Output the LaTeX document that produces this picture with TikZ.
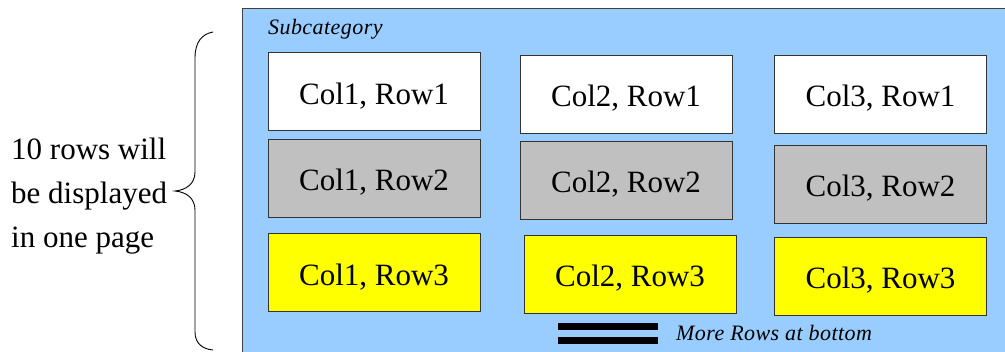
\documentclass[tikz,border=0pt]{standalone}
\usepackage{fontspec}
\setmainfont{Liberation Serif}
\newfontfamily\timesfont{Liberation Serif}
\definecolor{panelblue}{HTML}{99CCFF}
\definecolor{cellgrey}{HTML}{C0C0C0}
\definecolor{cellyellow}{HTML}{FFFF00}
\begin{document}
\begin{tikzpicture}[x=1pt,y=-1pt,
  cell/.style={draw=black!80, line width=0.9pt, minimum width=212pt, minimum height=78pt,
    inner sep=0pt, text height=26pt, text depth=0pt, font=\timesfont\fontsize{31}{31}\selectfont},
  white cell/.style={cell, fill=white},
  grey cell/.style={cell, fill=cellgrey},
  yellow cell/.style={cell, fill=cellyellow},
  side text/.style={anchor=base west, inner sep=0pt, font=\timesfont\fontsize{31}{31}\selectfont},
  note text/.style={anchor=base west, inner sep=0pt,
    font=\timesfont\fontsize{22}{22}\selectfont\itshape\addfontfeature{LetterSpace=2}}]
\useasboundingbox (0,0) rectangle (1005,352);

% panel
\fill[panelblue] (242,9) rectangle (1005,352);
\draw[black!75, line width=1pt] (242,352) -- (242,9) -- (1005,9);
\node[note text] (subcat) at (268,35) {Subcategory};

% grid of cells
\node[white cell]  (c11) at (374,91.5) {Col1, Row1};
\node[grey cell]   (c12) at (374,178)  {Col1, Row2};
\node[yellow cell] (c13) at (374,272.5){Col1, Row3};
\node[white cell]  (c21) at (626,94)   {Col2, Row1};
\node[grey cell]   (c22) at (626,180)  {Col2, Row2};
\node[yellow cell] (c23) at (630,274)  {Col2, Row3};
\node[white cell]  (c31) at (880.5,94) {Col3, Row1};
\node[grey cell]   (c32) at (880.5,184){Col3, Row2};
\node[yellow cell] (c33) at (880.5,276){Col3, Row3};

% more-rows marker
\fill[black] (558,323) rectangle (658,330);
\fill[black] (558,337) rectangle (658,344);
\node[note text] (more) at (676,341) {More Rows at bottom};

% side caption
\node[side text] (l1) at (11,160) {10 rows will};
\node[side text] (l2) at (11,204) {be displayed};
\node[side text] (l3) at (11,248) {in one page};

% curly brace
\coordinate (btop) at (213,32);
\coordinate (btip) at (175,191);
\coordinate (bbot) at (213,350);
\draw[line width=0.9pt] (btop) .. controls (202,34) and (195,42) .. (195,58)
  -- (195,172) .. controls (195,184) and (186,190) .. (btip)
  .. controls (186,192) and (195,198) .. (195,210)
  -- (195,332) .. controls (195,343) and (202,349) .. (bbot);
\end{tikzpicture}
\end{document}
